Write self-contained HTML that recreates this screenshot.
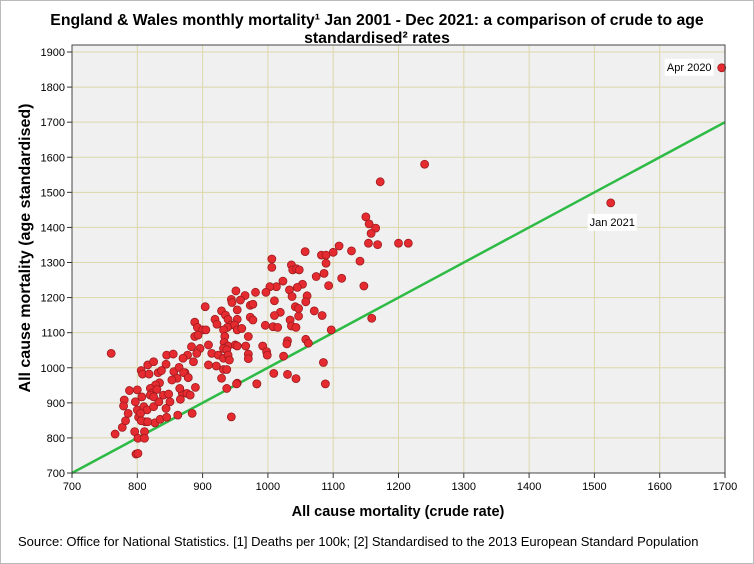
<!DOCTYPE html>
<html><head><meta charset="utf-8"><style>
body{margin:0;background:#fff;font-family:"Liberation Sans",Arial,sans-serif;}
svg{display:block}
</style></head><body>
<svg id="chart" width="754" height="564" xmlns="http://www.w3.org/2000/svg">
<rect x="0.5" y="0.5" width="753" height="563" fill="#fff" stroke="#bbb"/>
<text x="377" y="25" text-anchor="middle" font-size="15.8" font-weight="bold" font-family="Liberation Sans, sans-serif">England &amp; Wales monthly mortality¹ Jan 2001 - Dec 2021: a comparison of crude to age</text>
<text x="377" y="43" text-anchor="middle" font-size="15.8" font-weight="bold" font-family="Liberation Sans, sans-serif">standardised² rates</text>
<rect x="72" y="45" width="653" height="428" fill="#f0f0f0"/>
<g id="grid"></g>
<g id="axes"></g>
<line id="refline" stroke="#2dbb45" stroke-width="2.5"/>
<g id="points"></g>
<g id="labels"></g>
<rect x="72" y="45" width="653" height="428" fill="none" stroke="#444" stroke-width="1"/>
<text x="398" y="516" text-anchor="middle" font-size="14.5" font-weight="bold" font-family="Liberation Sans, sans-serif">All cause mortality (crude rate)</text>
<text transform="translate(30,248) rotate(-90)" text-anchor="middle" font-size="16" font-weight="bold" font-family="Liberation Sans, sans-serif">All cause mortality (age standardised)</text>
<text x="18" y="546" font-size="13" font-family="Liberation Sans, sans-serif">Source: Office for National Statistics. [1] Deaths per 100k; [2] Standardised to the 2013 European Standard Population</text>
</svg>
<script>
const xTicks=[700,800,900,1000,1100,1200,1300,1400,1500,1600,1700];
const yTicks=[700,800,900,1000,1100,1200,1300,1400,1500,1600,1700,1800,1900];
const crudeRate=[760,766,777,780,782,788,786,779,800,797,800,802,798,801,796,801,811,811,807,810,815,812,825,827,835,845,833,840,848,850,844,806,816,808,818,825,832,837,834,828,820,822,830,845,855,844,856,864,861,853,820,825,805,806,816,944,953,983,862,1006,1006,1057,1082,1089,1100,1109,1128,1154,1168,1141,1089,1036,1038,1044,1048,1086,1074,1093,1113,1147,1053,1045,1033,1023,1013,1003,997,981,965,951,944,945,958,973,977,1010,1037,1060,1058,1042,1047,1071,1083,1047,1034,1036,1043,1019,1010,1008,1015,996,973,977,953,929,935,919,922,939,953,944,949,938,932,953,960,904,888,892,900,905,888,893,934,970,933,939,950,932,953,966,937,992,998,999,1030,1029,1058,1062,1024,1097,1159,1085,1009,1030,1043,983,1088,970,970,883,896,909,914,924,932,939,941,921,932,937,909,886,877,891,870,878,873,929,952,937,1240,1172,1150,1155,1165,1158,1200,1215,1525,1695,869,876,881,889,884,866,865,871,878];
const ageStd=[1041,811,830,908,849,935,870,891,937,903,880,859,754,756,818,799,818,799,917,889,880,846,889,843,853,859,903,922,925,903,884,992,1008,982,982,1017,986,992,957,951,941,927,938,1036,1039,1010,989,1001,970,965,922,917,870,849,846,860,956,954,865,1310,1286,1331,1321,1321,1329,1347,1333,1355,1351,1304,1298,1293,1279,1282,1279,1269,1260,1234,1255,1233,1238,1229,1222,1247,1231,1231,1215,1215,1206,1219,1195,1186,1193,1178,1181,1191,1203,1205,1188,1174,1169,1162,1149,1147,1136,1119,1115,1158,1149,1117,1115,1121,1144,1136,1165,1162,1150,1138,1124,1138,1138,1122,1122,1115,1108,1108,1112,1174,1130,1115,1108,1108,1089,1093,1089,1089,1072,1062,1065,1055,1062,1062,1051,1062,1046,1036,1077,1068,1081,1070,1033,1108,1141,1015,984,981,969,954,954,1039,1026,1060,1055,1065,1041,1036,1027,1036,1022,1005,995,995,1008,1017,1036,1041,1027,972,986,970,954,941,1580,1530,1430,1410,1398,1383,1355,1355,1470,1855,927,927,922,944,870,910,941,986,972];
const NS="http://www.w3.org/2000/svg";
const L=72,R=725,T=45,B=473;
function xs(v){return L+(v-700)/1000*(R-L);}
function ys(v){return 473-(v-700)/1200*(473-52);}
const grid=document.getElementById('grid'),axes=document.getElementById('axes');
xTicks.forEach(t=>{
 const g=document.createElementNS(NS,'line');
 g.setAttribute('x1',xs(t));g.setAttribute('x2',xs(t));g.setAttribute('y1',T);g.setAttribute('y2',B);
 g.setAttribute('stroke','#dcd7aa');g.setAttribute('stroke-width','1');
 
 
 grid.appendChild(g);
 const k=document.createElementNS(NS,'line');
 k.setAttribute('x1',xs(t));k.setAttribute('x2',xs(t));k.setAttribute('y1',B);k.setAttribute('y2',B+5);
 k.setAttribute('stroke','#333');
 
 
 axes.appendChild(k);
 const tx=document.createElementNS(NS,'text');
 tx.setAttribute('x',xs(t));tx.setAttribute('y',B+17);tx.setAttribute('text-anchor','middle');
 tx.setAttribute('font-size','11');tx.textContent=t;
 
 
 axes.appendChild(tx);
});
yTicks.forEach(t=>{
 const g=document.createElementNS(NS,'line');
 g.setAttribute('x1',L);g.setAttribute('x2',R);g.setAttribute('y1',ys(t));g.setAttribute('y2',ys(t));
 g.setAttribute('stroke','#dcd7aa');g.setAttribute('stroke-width','1');
 
 
 grid.appendChild(g);
 const k=document.createElementNS(NS,'line');
 k.setAttribute('x1',L-5);k.setAttribute('x2',L);k.setAttribute('y1',ys(t));k.setAttribute('y2',ys(t));
 k.setAttribute('stroke','#333');
 
 
 axes.appendChild(k);
 const tx=document.createElementNS(NS,'text');
 tx.setAttribute('x',L-7);tx.setAttribute('y',ys(t)+4);tx.setAttribute('text-anchor','end');
 tx.setAttribute('font-size','11');tx.textContent=t;
 
 
 axes.appendChild(tx);
});
const rl=document.getElementById('refline');
rl.setAttribute('x1',xs(700));rl.setAttribute('y1',ys(700));rl.setAttribute('x2',xs(1700));rl.setAttribute('y2',ys(1700));
const pts=document.getElementById('points');
crudeRate.forEach((v,i)=>{
 const c=document.createElementNS(NS,'circle');
 c.setAttribute('cx',xs(v));c.setAttribute('cy',ys(ageStd[i]));c.setAttribute('r','4');
 c.setAttribute('fill','#e62b30');c.setAttribute('stroke','#9c1b1e');c.setAttribute('stroke-width','0.8');
 
 
 pts.appendChild(c);
});
const labelText=['Apr 2020','Jan 2021'];
const labelX=[1695,1525];
const labelY=[1855,1470];
const lbl=document.getElementById('labels');
labelText.forEach((s,i)=>{
 const px=xs(labelX[i]),py=ys(labelY[i]);
 let bx,by;
 if(i===0){bx=px-57;by=py-9;}else{bx=px-23;by=py+11;}
 const r=document.createElementNS(NS,'rect');
 r.setAttribute('x',bx);r.setAttribute('y',by);r.setAttribute('width','49');r.setAttribute('height','17');r.setAttribute('fill','#fff');
 
 
 lbl.appendChild(r);
 const t=document.createElementNS(NS,'text');
 t.setAttribute('x',bx+24.5);t.setAttribute('y',by+12);t.setAttribute('text-anchor','middle');t.setAttribute('font-size','11');
 t.textContent=s;
 
 
 lbl.appendChild(t);
});
</script>
</body></html>
